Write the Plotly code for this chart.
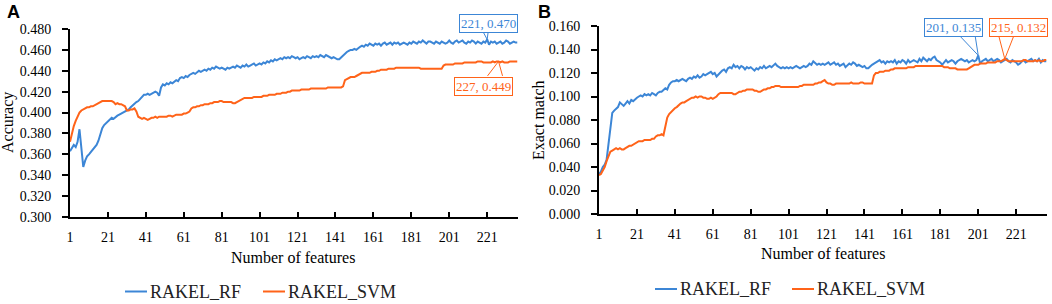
import plotly.graph_objects as go

# ---------------- data ----------------
acc_rf = [
    0.363, 0.366, 0.369, 0.367, 0.372, 0.384, 0.365, 0.348, 0.354, 0.358,
    0.360, 0.362, 0.364, 0.366, 0.369, 0.373, 0.380, 0.385, 0.388, 0.390,
    0.391, 0.393, 0.395, 0.394, 0.396, 0.397, 0.398, 0.399, 0.400, 0.401,
    0.402, 0.403, 0.405, 0.407, 0.408, 0.410, 0.411, 0.413, 0.416, 0.417,
    0.417, 0.418, 0.417, 0.418, 0.419, 0.420, 0.419, 0.416, 0.424, 0.427,
    0.426, 0.428, 0.427, 0.429, 0.428, 0.430, 0.431, 0.430, 0.433, 0.434,
    0.433, 0.435, 0.434, 0.436, 0.437, 0.438, 0.437, 0.439, 0.440, 0.439,
    0.440, 0.441, 0.440, 0.442, 0.441, 0.443, 0.442, 0.444, 0.443, 0.442,
    0.443, 0.442, 0.441, 0.443, 0.442, 0.443, 0.444, 0.443, 0.445, 0.444,
    0.443, 0.445, 0.444, 0.446, 0.444, 0.445, 0.446, 0.447, 0.445, 0.446,
    0.447, 0.446, 0.448, 0.447, 0.449, 0.448, 0.450, 0.449, 0.451, 0.450,
    0.451, 0.452, 0.451, 0.453, 0.452, 0.453, 0.452, 0.454, 0.453, 0.452,
    0.453, 0.451, 0.452, 0.453, 0.452, 0.454, 0.453, 0.452, 0.454, 0.453,
    0.454, 0.453, 0.455, 0.454, 0.453, 0.455, 0.454, 0.453, 0.452, 0.453,
    0.452, 0.451, 0.451, 0.453, 0.455, 0.457, 0.458, 0.459, 0.460, 0.460,
    0.461, 0.460, 0.462, 0.463, 0.464, 0.463, 0.465, 0.464, 0.466, 0.465,
    0.464, 0.466, 0.465, 0.466, 0.464, 0.466, 0.467, 0.465, 0.466, 0.467,
    0.465, 0.467, 0.466, 0.467, 0.465, 0.466, 0.467, 0.466, 0.465, 0.467,
    0.466, 0.468, 0.467, 0.466, 0.468, 0.467, 0.469, 0.467, 0.466, 0.468,
    0.468, 0.467, 0.466, 0.468, 0.467, 0.466, 0.468, 0.467, 0.466, 0.467,
    0.469, 0.467, 0.466, 0.468, 0.469, 0.467, 0.468, 0.469, 0.467, 0.466,
    0.468, 0.467, 0.469, 0.468, 0.466, 0.468, 0.467, 0.466, 0.468, 0.467,
    0.470, 0.465, 0.468, 0.467, 0.468, 0.466, 0.467, 0.468, 0.466, 0.467,
    0.469, 0.468, 0.466, 0.467, 0.468, 0.467, 0.467,
]
acc_svm = [
    0.372, 0.380, 0.387, 0.392, 0.397, 0.400, 0.402, 0.403, 0.404, 0.405,
    0.405, 0.406, 0.406, 0.407, 0.408, 0.409, 0.410, 0.411, 0.411, 0.411,
    0.411, 0.411, 0.411, 0.410, 0.408, 0.409, 0.408, 0.408, 0.407, 0.406,
    0.402, 0.402, 0.403, 0.403, 0.404, 0.401, 0.396, 0.395, 0.394, 0.395,
    0.394, 0.393, 0.394, 0.395, 0.395, 0.396, 0.395, 0.396, 0.396, 0.396,
    0.396, 0.396, 0.397, 0.397, 0.396, 0.397, 0.398, 0.398, 0.398, 0.398,
    0.399, 0.399, 0.400, 0.401, 0.404, 0.405, 0.405, 0.406, 0.406, 0.407,
    0.407, 0.408, 0.408, 0.408, 0.409, 0.409, 0.410, 0.410, 0.410, 0.411,
    0.411, 0.410, 0.410, 0.410, 0.410, 0.410, 0.409, 0.409, 0.410, 0.411,
    0.412, 0.413, 0.414, 0.414, 0.414, 0.414, 0.414, 0.415, 0.415, 0.415,
    0.415, 0.415, 0.416, 0.416, 0.416, 0.417, 0.417, 0.417, 0.417, 0.418,
    0.418, 0.418, 0.419, 0.419, 0.419, 0.420, 0.420, 0.421, 0.421, 0.421,
    0.421, 0.421, 0.422, 0.422, 0.422, 0.422, 0.422, 0.423, 0.423, 0.423,
    0.423, 0.423, 0.423, 0.423, 0.423, 0.423, 0.424, 0.424, 0.424, 0.424,
    0.424, 0.424, 0.424, 0.424, 0.425, 0.431, 0.432, 0.433, 0.434, 0.434,
    0.434, 0.435, 0.436, 0.437, 0.438, 0.438, 0.438, 0.438, 0.438, 0.439,
    0.439, 0.439, 0.440, 0.440, 0.441, 0.441, 0.441, 0.441, 0.442, 0.442,
    0.442, 0.442, 0.443, 0.443, 0.443, 0.443, 0.443, 0.443, 0.443, 0.443,
    0.443, 0.443, 0.443, 0.443, 0.443, 0.442, 0.442, 0.442, 0.442, 0.442,
    0.442, 0.442, 0.442, 0.442, 0.442, 0.442, 0.442, 0.445, 0.446, 0.446,
    0.446, 0.446, 0.446, 0.447, 0.447, 0.447, 0.447, 0.447, 0.448, 0.448,
    0.448, 0.448, 0.448, 0.448, 0.448, 0.449, 0.449, 0.449, 0.448, 0.448,
    0.448, 0.448, 0.448, 0.449, 0.448, 0.449, 0.449, 0.448, 0.449, 0.448,
    0.448, 0.448, 0.449, 0.449, 0.449, 0.449, 0.449,
]
em_rf = [
    0.034, 0.036, 0.040, 0.042, 0.046, 0.060, 0.075, 0.086, 0.088, 0.090,
    0.091, 0.095, 0.093, 0.092, 0.094, 0.096, 0.094, 0.097, 0.096, 0.098,
    0.099, 0.100, 0.101, 0.100, 0.102, 0.101, 0.102, 0.101, 0.103, 0.102,
    0.101, 0.103, 0.104, 0.104, 0.106, 0.107, 0.106, 0.110, 0.112, 0.113,
    0.113, 0.114, 0.113, 0.114, 0.115, 0.114, 0.113, 0.115, 0.116, 0.115,
    0.117, 0.116, 0.118, 0.116, 0.117, 0.119, 0.118, 0.119, 0.120, 0.121,
    0.119, 0.120, 0.117, 0.119, 0.121, 0.122, 0.123, 0.121, 0.124, 0.125,
    0.124, 0.127, 0.125, 0.126, 0.124, 0.126, 0.125, 0.123, 0.125, 0.124,
    0.125, 0.123, 0.122, 0.124, 0.123, 0.125, 0.124, 0.126, 0.124, 0.125,
    0.126, 0.125, 0.127, 0.128, 0.126, 0.125, 0.124, 0.125, 0.124, 0.125,
    0.124, 0.125, 0.124, 0.125, 0.126, 0.125, 0.124, 0.125, 0.126, 0.125,
    0.126, 0.128, 0.127, 0.130, 0.128, 0.127, 0.128, 0.127, 0.128, 0.127,
    0.128, 0.129, 0.127, 0.128, 0.129, 0.127, 0.128, 0.126, 0.127, 0.128,
    0.125, 0.127, 0.128, 0.127, 0.129, 0.128, 0.126, 0.127, 0.126, 0.125,
    0.126, 0.124, 0.124, 0.126, 0.127, 0.128, 0.129, 0.130, 0.131, 0.129,
    0.130, 0.128, 0.130, 0.129, 0.130, 0.129, 0.131, 0.128, 0.130, 0.129,
    0.131, 0.130, 0.128, 0.131, 0.129, 0.130, 0.131, 0.130, 0.129, 0.132,
    0.130, 0.133, 0.131, 0.130, 0.132, 0.131, 0.133, 0.134, 0.131, 0.130,
    0.129, 0.127, 0.129, 0.131, 0.129, 0.130, 0.131, 0.130, 0.128, 0.130,
    0.131, 0.132, 0.131, 0.130, 0.131, 0.129, 0.130, 0.131, 0.130, 0.131,
    0.135, 0.128, 0.130, 0.131, 0.132, 0.130, 0.131, 0.132, 0.130, 0.131,
    0.132, 0.131, 0.129, 0.130, 0.131, 0.132, 0.130, 0.129, 0.131, 0.130,
    0.129, 0.127, 0.128, 0.130, 0.131, 0.129, 0.130, 0.131, 0.132, 0.130,
    0.131, 0.130, 0.132, 0.129, 0.131, 0.130, 0.130,
]
em_svm = [
    0.033, 0.034, 0.037, 0.040, 0.045, 0.049, 0.053, 0.054, 0.055, 0.056,
    0.055, 0.056, 0.055, 0.055, 0.056, 0.057, 0.058, 0.058, 0.059, 0.060,
    0.061, 0.062, 0.062, 0.062, 0.063, 0.063, 0.063, 0.063, 0.064, 0.064,
    0.066, 0.067, 0.067, 0.068, 0.067, 0.075, 0.082, 0.085, 0.087, 0.088,
    0.090, 0.091, 0.093, 0.094, 0.095, 0.095, 0.096, 0.097, 0.098, 0.099,
    0.099, 0.100, 0.099, 0.100, 0.100, 0.099, 0.099, 0.098, 0.098, 0.099,
    0.098, 0.099, 0.100, 0.102, 0.103, 0.103, 0.103, 0.103, 0.103, 0.103,
    0.103, 0.102, 0.102, 0.103, 0.104, 0.104, 0.105, 0.105, 0.106, 0.106,
    0.106, 0.106, 0.105, 0.105, 0.104, 0.104, 0.105, 0.106, 0.106, 0.107,
    0.107, 0.108, 0.108, 0.109, 0.109, 0.109, 0.108, 0.108, 0.108, 0.108,
    0.108, 0.108, 0.108, 0.108, 0.108, 0.108, 0.109, 0.109, 0.110, 0.110,
    0.110, 0.110, 0.110, 0.110, 0.111, 0.111, 0.112, 0.112, 0.113, 0.114,
    0.112, 0.111, 0.111, 0.110, 0.110, 0.111, 0.111, 0.111, 0.111, 0.111,
    0.111, 0.111, 0.111, 0.112, 0.111, 0.111, 0.111, 0.111, 0.112, 0.112,
    0.111, 0.111, 0.111, 0.111, 0.111, 0.118, 0.120, 0.120, 0.121, 0.121,
    0.121, 0.122, 0.122, 0.122, 0.123, 0.123, 0.124, 0.124, 0.124, 0.124,
    0.124, 0.124, 0.124, 0.125, 0.125, 0.125, 0.125, 0.126, 0.126, 0.126,
    0.126, 0.126, 0.126, 0.126, 0.126, 0.126, 0.126, 0.126, 0.126, 0.126,
    0.126, 0.126, 0.125, 0.125, 0.125, 0.124, 0.124, 0.124, 0.124, 0.123,
    0.123, 0.123, 0.123, 0.123, 0.123, 0.124, 0.125, 0.126, 0.127, 0.127,
    0.127, 0.128, 0.128, 0.128, 0.128, 0.129, 0.129, 0.129, 0.129, 0.129,
    0.130, 0.130, 0.130, 0.131, 0.132, 0.131, 0.130, 0.130, 0.130, 0.130,
    0.130, 0.130, 0.130, 0.130, 0.131, 0.131, 0.130, 0.130, 0.130, 0.130,
    0.131, 0.130, 0.131, 0.130, 0.130, 0.131, 0.131,
]
series_names = ["RAKEL_RF", "RAKEL_SVM"]
x_tick_vals = [1, 21, 41, 61, 81, 101, 121, 141, 161, 181, 201, 221]
acc_ticks = [0.300, 0.320, 0.340, 0.360, 0.380, 0.400, 0.420, 0.440, 0.460, 0.480]
em_ticks = [0.000, 0.020, 0.040, 0.060, 0.080, 0.100, 0.120, 0.140, 0.160]
# highlighted points (feature number) per panel/series
acc_marks = {"RAKEL_RF": 221, "RAKEL_SVM": 227}
em_marks = {"RAKEL_RF": 201, "RAKEL_SVM": 215}

for s in (acc_rf, acc_svm, em_rf, em_svm):
    assert len(s) == 237, len(s)

features = list(range(1, len(acc_rf) + 1))

# ---------------- style ----------------
W, H = 1052, 304
BLUE = "#3C86D6"
ORANGE = "#FF6319"
SERIF = "Liberation Serif"

fig = go.Figure()
panels = [
    ("x", "y", acc_rf, acc_svm),
    ("x2", "y2", em_rf, em_svm),
]
for xa, ya, rf, svm in panels:
    fig.add_trace(go.Scatter(x=features, y=rf, mode="lines", name=series_names[0],
                             line=dict(color=BLUE, width=2), xaxis=xa, yaxis=ya,
                             showlegend=False))
    fig.add_trace(go.Scatter(x=features, y=svm, mode="lines", name=series_names[1],
                             line=dict(color=ORANGE, width=2), xaxis=xa, yaxis=ya,
                             showlegend=False))


def px_x(p):
    return p / W


def px_y(p):
    return 1 - p / H


common_x = dict(
    range=[1, len(features)], tickvals=x_tick_vals, ticks="inside", ticklen=5,
    tickwidth=1.5, tickcolor="black", showline=True, linecolor="black", linewidth=2,
    showgrid=False, zeroline=False, automargin=False, ticklabelstandoff=6,
    tickfont=dict(family=SERIF, size=14, color="black"),
)
common_y = dict(
    ticks="outside", ticklen=6, tickwidth=1.5, tickcolor="black", showline=True,
    linecolor="black", linewidth=2, showgrid=False, zeroline=False, tickformat=".3f",
    automargin=False, tickfont=dict(family=SERIF, size=14, color="black"),
    ticklabelstandoff=8,
)

fig.update_layout(
    template="none",
    width=W, height=H, margin=dict(l=0, r=0, t=0, b=0, autoexpand=False),
    paper_bgcolor="white", plot_bgcolor="white", showlegend=False,
    font=dict(family=SERIF, color="black"),
    xaxis=dict(domain=[px_x(70), px_x(517.5)], anchor="y", **common_x),
    yaxis=dict(domain=[px_y(217), px_y(29)], anchor="x", range=[0.30, 0.48],
               tickvals=acc_ticks, **common_y),
    xaxis2=dict(domain=[px_x(599), px_x(1046.5)], anchor="y2", **common_x),
    yaxis2=dict(domain=[px_y(214), px_y(26)], anchor="x2", range=[0.0, 0.16],
                tickvals=em_ticks, **common_y),
)


def paper_text(text, cx, cy, font, angle=0):
    fig.add_annotation(text=text, x=px_x(cx), y=px_y(cy), xref="paper", yref="paper",
                       xanchor="center", yanchor="middle", showarrow=False,
                       textangle=angle, font=font)


# axis titles
title_font = dict(family=SERIF, size=16, color="black")
paper_text("Number of features", 293, 257, title_font)
paper_text("Number of features", 823, 253, title_font)
paper_text("Accuracy", 8, 123, title_font, angle=-90)
paper_text("Exact match", 538, 120, title_font, angle=-90)

# panel letters
letter_font = dict(family="Liberation Sans", size=18, color="black")
paper_text("<b>A</b>", 13, 12, letter_font)
paper_text("<b>B</b>", 544, 12, letter_font)

# manual legends (line sample + label)
legend_font = dict(family=SERIF, size=18, color="#222222")
legend_items = [
    (125, 291.5, BLUE, series_names[0]),
    (263, 291.5, ORANGE, series_names[1]),
    (655, 289, BLUE, series_names[0]),
    (792, 289, ORANGE, series_names[1]),
]
for lx, ly, col, name in legend_items:
    fig.add_shape(type="line", xref="paper", yref="paper", x0=px_x(lx), x1=px_x(lx + 22),
                  y0=px_y(ly), y1=px_y(ly), line=dict(color=col, width=2))
    fig.add_annotation(text=name, x=px_x(lx + 23), y=px_y(ly), xref="paper", yref="paper",
                       xanchor="left", yanchor="middle", showarrow=False, font=legend_font)

# data callouts
callouts = [
    # xa, ya, series values, feature, color, box shift (px), wedge pts (px rel. to point)
    ("x", "y", acc_rf, acc_marks["RAKEL_RF"], BLUE, (1, 16), [(-4, 7.5), (1, 7.5)]),
    ("x", "y", acc_svm, acc_marks["RAKEL_SVM"], ORANGE, (-15.5, -25), [(-11, -14.5), (4, -14.5)]),
    ("x2", "y2", em_rf, em_marks["RAKEL_RF"], BLUE, (-24.5, 28), [(-18, 19), (-3, 19)]),
    ("x2", "y2", em_svm, em_marks["RAKEL_SVM"], ORANGE, (14, 31), [(-6, 23), (9, 23)]),
]
for xa, ya, vals, feat, col, (sx, sy), wedge in callouts:
    val = vals[feat - 1]
    fig.add_annotation(text=f"{feat}, {val:.3f}", x=feat, y=val, xref=xa, yref=ya,
                       xshift=sx, yshift=sy, showarrow=False, xanchor="center",
                       yanchor="middle",
                       font=dict(family=SERIF, size=13, color=col), bgcolor="white",
                       bordercolor=col, borderwidth=1, borderpad=1)
    (ax0, ay0), (ax1, ay1) = wedge
    fig.add_shape(type="path", xref=xa, yref=ya, xsizemode="pixel", ysizemode="pixel",
                  xanchor=feat, yanchor=val,
                  path=f"M {ax0},{ay0} L 0,0 L {ax1},{ay1}",
                  line=dict(color=col, width=1))

fig.write_html(
    "out.html",
    config={"displayModeBar": False},
    post_script="document.body.style.margin='0';document.body.style.overflow='hidden';",
)
